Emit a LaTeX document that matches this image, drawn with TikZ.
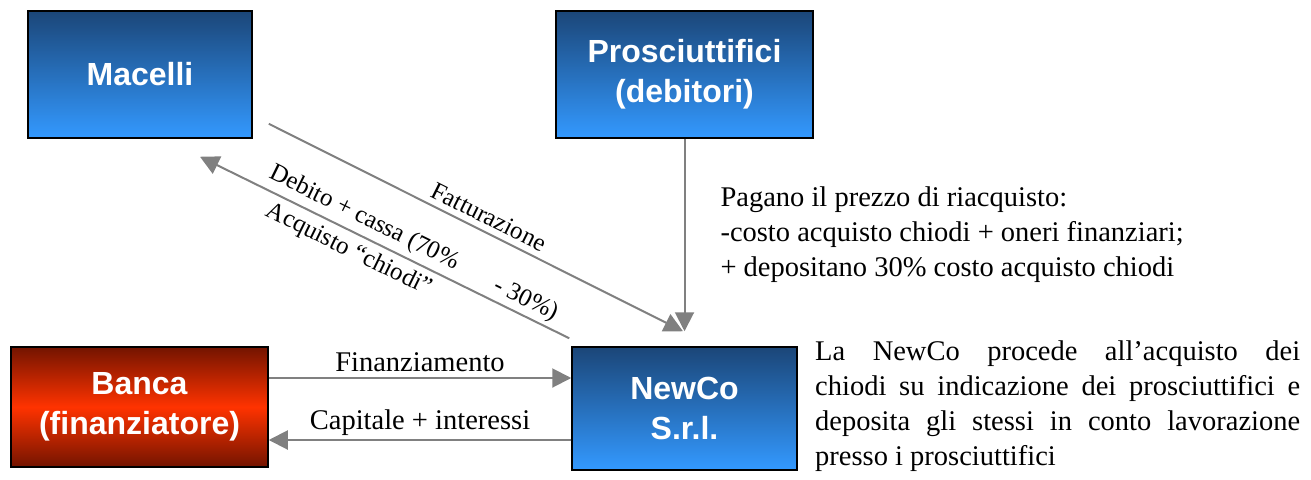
\documentclass[tikz,border=0pt]{standalone}
\usepackage{fontspec}
\setmainfont{Liberation Serif}
\setsansfont{Liberation Sans}
\usetikzlibrary{arrows.meta, positioning, calc}
\definecolor{topblue}{RGB}{27,70,120}
\definecolor{lowblue}{RGB}{51,153,255}
\definecolor{darkred}{RGB}{115,20,0}
\definecolor{hotred}{RGB}{255,51,0}
\definecolor{flowgray}{RGB}{128,128,128}
\tikzset{%
	firm/.style={draw=black, line width=1.5pt, rectangle, inner sep=0mm, align=center,%
		text=white, font=\sffamily\bfseries\fontsize{32}{40}\selectfont,
		top color=topblue, bottom color=lowblue},
	bank/.style={firm, top color=darkred, bottom color=darkred, middle color=hotred},
	flow/.style={draw=flowgray, line width=2pt, >={Triangle[length=19pt, width=19pt]}},
	lbl/.style={font=\fontsize{28.5}{35}\selectfont, inner sep=2pt},
	slbl/.style={font=\fontsize{25}{29}\selectfont, inner sep=1pt, sloped}
}
\begin{document}
\begin{tikzpicture}[x=1pt, y=-1pt]
	\useasboundingbox (0,0) rectangle (1311,479);
	\node[firm, minimum width=224pt, minimum height=127pt] (mac) at (140,74.5) {Macelli};
	\node[firm, minimum width=257pt, minimum height=127pt] (pro) at (684.5,74.5) {Prosciuttifici\\(debitori)};
	\node[bank, minimum width=257pt, minimum height=120pt] (ban) at (139.5,407) {Banca\\(finanziatore)};
	\node[firm, minimum width=225pt, minimum height=123pt] (nc) at (684.5,408.5) {NewCo\\S.r.l.};
	\node[lbl, anchor=north west, text width=485pt, align=justify, inner sep=0pt] (desc) at (815,341)
		{La NewCo procede all’acquisto dei\linebreak chiodi su indicazione dei prosciuttifici e\linebreak
		deposita gli stessi in conto lavorazione\linebreak presso i prosciuttifici};

	\draw[flow, ->] (pro.south) -- node[lbl, right=33pt, align=left, pos=.5]
		{Pagano il prezzo di riacquisto:\\-costo acquisto chiodi + oneri finanziari;\\+ depositano 30\% costo acquisto chiodi}
		([yshift=15pt]nc.north);
	\draw[flow, ->] ([xshift=16pt, yshift=15pt]mac.south east) -- node[slbl, above=5pt, pos=.515] {Fatturazione}
		([xshift=-1.5pt, yshift=15pt]nc.north);
	\draw[flow, <-] ([xshift=60pt, yshift=-18pt]mac.south) --
		node[slbl, above=4pt, pos=.424] {Debito + cassa (70\%}
		node[slbl, above=2pt, pos=.865] {- 30\%)}
		node[slbl, below=5pt, pos=.425] {Acquisto “chiodi”}
		([xshift=-2pt, yshift=8pt]nc.north west);
	\draw[flow, ->] ([yshift=29pt]ban.east) -- node[lbl, above=3pt] {Finanziamento} ([yshift=30.5pt]nc.west);
	\draw[flow, ->] ([yshift=-31.5pt]nc.west) -- node[lbl, above=1pt] {Capitale + interessi} ([yshift=-33pt]ban.east);
\end{tikzpicture}
\end{document}
